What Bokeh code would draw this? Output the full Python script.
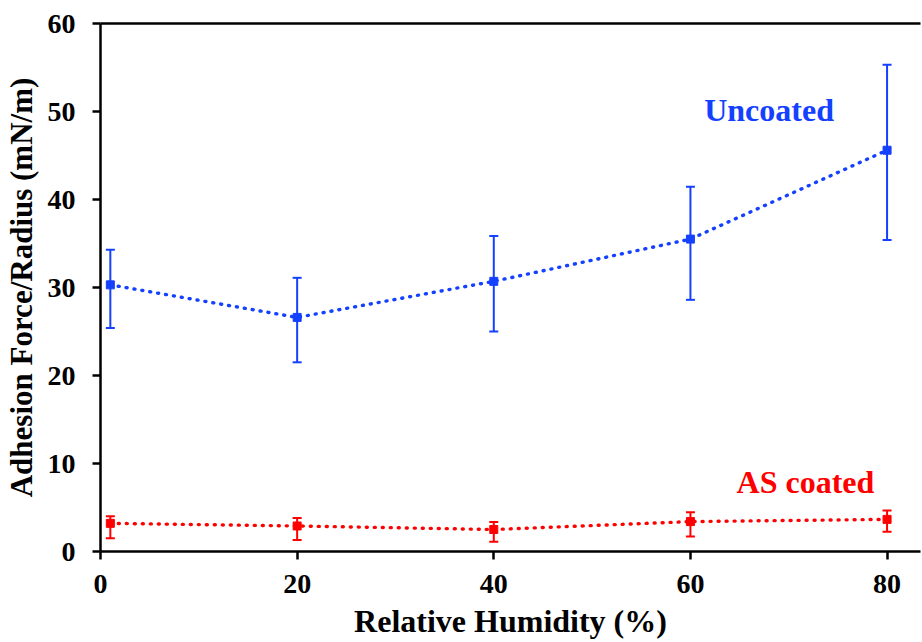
from bokeh.plotting import figure
from bokeh.models import ColumnDataSource, Whisker, Label, LinearAxis, FixedTicker, Range1d, TeeHead
from bokeh.embed import file_html
from bokeh.resources import INLINE

# ---- data ----
rh = [1, 20, 40, 60, 80]
uncoated = [30.3, 26.6, 30.7, 35.5, 45.6]
uncoated_hi = [34.3, 31.1, 35.85, 41.45, 55.3]
uncoated_lo = [25.4, 21.5, 25.0, 28.6, 35.4]
coated = [3.2, 2.9, 2.5, 3.4, 3.65]
coated_hi = [4.0, 3.8, 3.35, 4.45, 4.65]
coated_lo = [1.5, 1.3, 1.1, 1.7, 2.25]
x_ticks = [0, 20, 40, 60, 80]
y_ticks = [0, 10, 20, 30, 40, 50, 60]

BLUE = "#1440ff"
RED = "#ff0000"
FONT = "Liberation Serif"

p = figure(width=922, height=642, x_range=Range1d(0, 83.4), y_range=Range1d(0, 60),
           output_backend="svg", toolbar_location=None,
           min_border_left=100, min_border_top=23, min_border_bottom=91, min_border_right=2)
p.outline_line_color = None
p.xgrid.visible = False
p.ygrid.visible = False
p.background_fill_color = "white"
p.border_fill_color = "white"

for ax in (p.xaxis[0], p.yaxis[0]):
    ax.axis_line_width = 2.5
    ax.axis_line_color = "black"
    ax.major_tick_line_width = 2.5
    ax.major_tick_out = 8
    ax.major_tick_in = 0
    ax.minor_tick_out = 0
    ax.minor_tick_in = 0
    ax.major_label_text_font = FONT
    ax.major_label_text_font_style = "bold"
    ax.major_label_text_font_size = "28px"
    ax.major_label_text_color = "black"
    ax.axis_label_text_font = FONT
    ax.axis_label_text_font_style = "bold"
    ax.axis_label_text_color = "black"

p.xaxis.ticker = FixedTicker(ticks=x_ticks)
p.yaxis.ticker = FixedTicker(ticks=y_ticks)
p.xaxis.axis_label = "Relative Humidity (%)"
p.yaxis.axis_label = "Adhesion Force/Radius (mN/m)"
p.xaxis.axis_label_text_font_size = "32px"
p.yaxis.axis_label_text_font_size = "31px"
p.xaxis.major_label_text_line_height = 0.8
p.xaxis.axis_label_text_line_height = 0.8
p.xaxis.major_label_standoff = 15
p.yaxis.major_label_standoff = 17
p.xaxis.axis_label_standoff = 7
p.yaxis.axis_label_standoff = 6

top = LinearAxis(ticker=FixedTicker(ticks=[]), axis_line_width=2.5, major_tick_out=0,
                 minor_tick_out=0, major_label_text_font_size="0px")
p.add_layout(top, "above")

src_u = ColumnDataSource(dict(x=rh, y=uncoated, hi=uncoated_hi, lo=uncoated_lo))
src_c = ColumnDataSource(dict(x=rh, y=coated, hi=coated_hi, lo=coated_lo))

for src, col in ((src_u, BLUE), (src_c, RED)):
    p.line("x", "y", source=src, line_color=col, line_width=3.4, line_dash="1 7", line_cap="round")
    w = Whisker(base="x", upper="hi", lower="lo", source=src, line_color=col, line_width=2,
                upper_head=TeeHead(size=9, line_color=col, line_width=2),
                lower_head=TeeHead(size=9, line_color=col, line_width=2))
    p.add_layout(w)
    p.scatter("x", "y", source=src, marker="square", size=8, fill_color=col, line_color=col)

p.add_layout(Label(x=68.0, y=50.2, text="Uncoated", text_font=FONT, text_font_style="bold",
                   text_font_size="32px", text_color=BLUE, text_align="center", text_baseline="middle"))
p.add_layout(Label(x=71.7, y=7.9, text="AS coated", text_font=FONT, text_font_style="bold",
                   text_font_size="32px", text_color=RED, text_align="center", text_baseline="middle"))

open("out.html", "w").write(file_html(p, INLINE))
